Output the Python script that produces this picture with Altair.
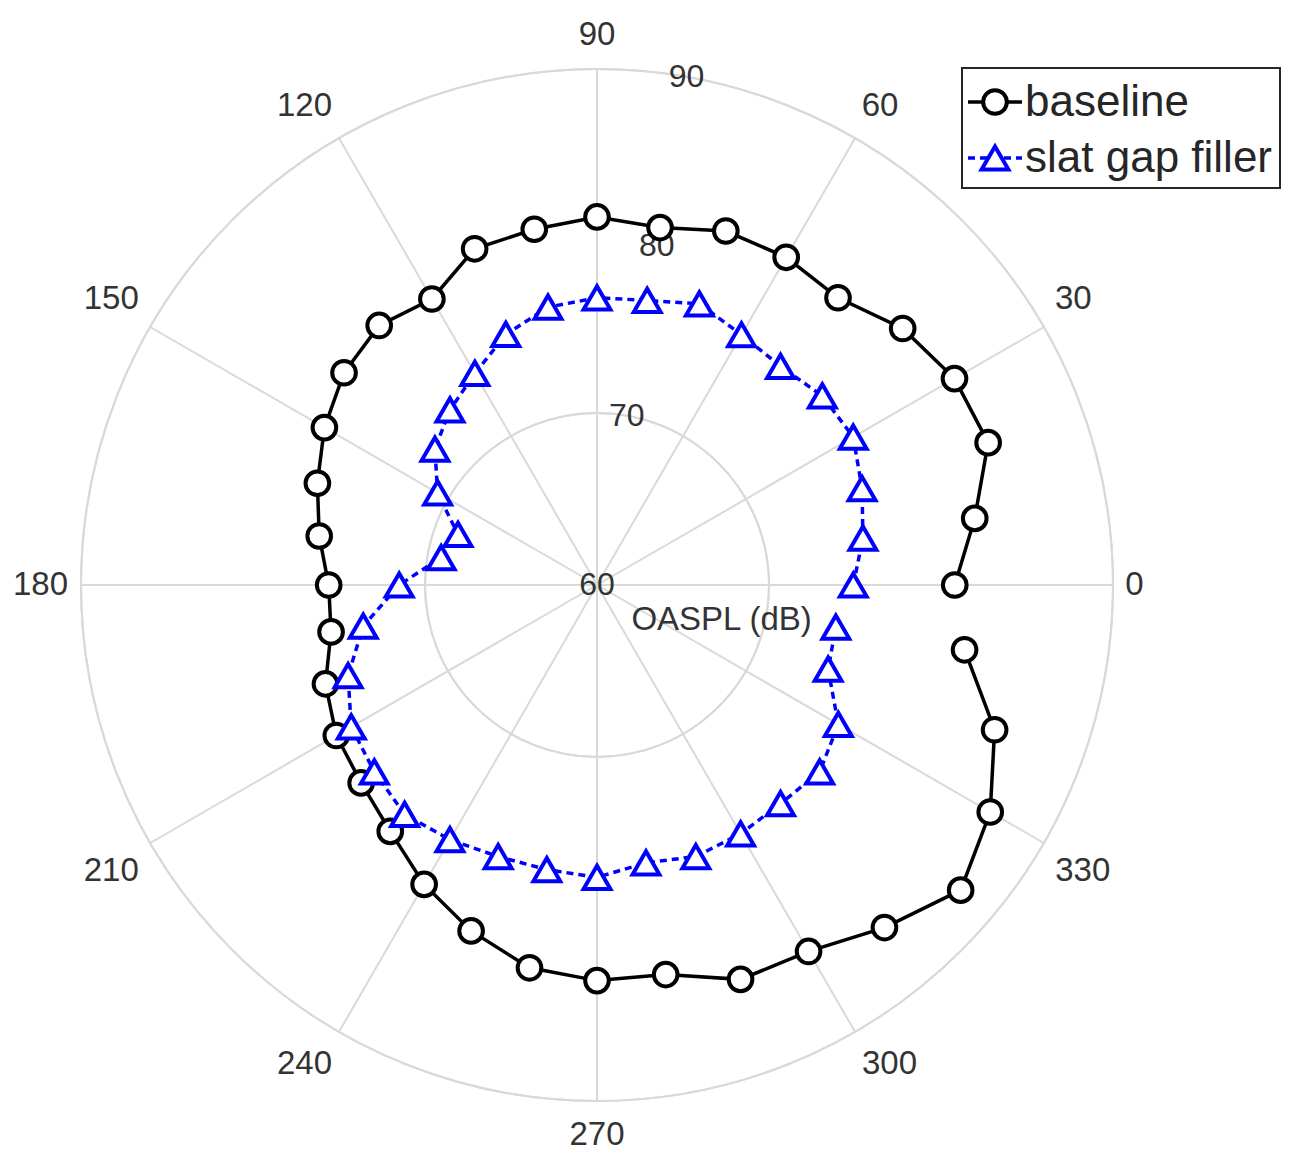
import math
import altair as alt
import pandas as pd

# ---------------- data ----------------
angles = list(range(0, 360, 10))
baseline = [80.8, 82.3, 84.2, 84.0, 83.2, 81.8, 82.0, 81.9, 81.1, 81.4,
            81.0, 80.8, 79.2, 79.7, 79.2, 78.3, 77.3, 76.4, 75.6, 75.7,
            76.8, 77.5, 77.9, 78.7, 80.1, 81.4, 82.6, 83.0, 83.0, 84.4,
            84.6, 86.0, 87.6, 86.4, 84.6, 81.7]
gap_filler = [74.9, 75.7, 76.4, 77.2, 77.1, 76.6, 76.8, 77.4, 76.8, 76.7,
              76.4, 75.5, 74.2, 73.3, 72.3, 70.7, 68.6, 69.2, 71.5, 73.8,
              75.4, 76.5, 76.9, 77.4, 77.1, 76.8, 76.8, 77.0, 76.4, 76.8,
              76.7, 76.6, 76.9, 76.2, 74.3, 74.1]
series_names = ["baseline", "slat gap filler"]
r_ticks = [60, 70, 80, 90]
r_label_angle = 80
theta_ticks = list(range(0, 360, 30))
theta_labels = [str(t) for t in theta_ticks]
r_title = "OASPL (dB)"
R_MIN, R_MAX = 60, 90

# ---------------- style ----------------
GRID = "#d9d9d9"
TXT = "#333333"
FONT = "Liberation Sans"
SIZE = 1032
SPAN = R_MAX - R_MIN
PX = SIZE / 2 / SPAN  # pixels per dB

xs = alt.Scale(domain=[-SPAN, SPAN], nice=False, zero=False)
ys = alt.Scale(domain=[-SPAN, SPAN], nice=False, zero=False)

df = pd.DataFrame({
    "angle": angles * 2,
    "value": baseline + gap_filler,
    "series": [series_names[0]] * len(angles) + [series_names[1]] * len(angles),
})

def polar(chart, rexpr, aexpr):
    return chart.transform_calculate(
        px=f"({rexpr})*cos(({aexpr})*PI/180)",
        py=f"({rexpr})*sin(({aexpr})*PI/180)",
    )

X = alt.X("px:Q", scale=xs, axis=None)
Y = alt.Y("py:Q", scale=ys, axis=None)

# grid rings
rings = alt.Chart(pd.DataFrame({"r": r_ticks[1:]})).transform_calculate(
    rr=f"datum.r - {R_MIN}"
).mark_arc(filled=False, stroke=GRID, strokeWidth=2, theta=0, theta2=2 * math.pi).encode(
    radius=alt.Radius("rr:Q", scale=alt.Scale(type="linear", domain=[0, SPAN], range=[0, SIZE / 2]))
)

# spokes
spokes = alt.Chart(pd.DataFrame({"a": theta_ticks})).transform_calculate(
    x0="0", y0="0",
    x1=f"{SPAN}*cos(datum.a*PI/180)", y1=f"{SPAN}*sin(datum.a*PI/180)",
).mark_rule(color=GRID, strokeWidth=2).encode(
    x=alt.X("x0:Q", scale=xs, axis=None), y=alt.Y("y0:Q", scale=ys, axis=None),
    x2="x1:Q", y2="y1:Q",
)

# radial tick labels
rlab = polar(alt.Chart(pd.DataFrame({"r": r_ticks, "t": [str(v) for v in r_ticks]})),
             f"datum.r - {R_MIN}", str(r_label_angle)).mark_text(
    font=FONT, fontSize=32, color=TXT, align="center", baseline="middle"
).encode(x=X, y=Y, text="t:N")

# angle labels: corner of the text box placed just outside the outer ring
alab = alt.Chart(pd.DataFrame({"a": theta_ticks, "t": theta_labels})).transform_calculate(
    c="cos(datum.a*PI/180)", s="sin(datum.a*PI/180)",
).transform_calculate(
    sx="datum.c > 0.01 ? 1 : (datum.c < -0.01 ? -1 : 0)",
    sy="datum.s > 0.01 ? 1 : (datum.s < -0.01 ? -1 : 0)",
).transform_calculate(
    px=f"(528*datum.c + datum.sx*9.5*length(datum.t))/{PX}",
    py=f"(528*datum.s + datum.sy*22)/{PX}",
).mark_text(
    font=FONT, fontSize=33, color=TXT, align="center", baseline="middle"
).encode(x=X, y=Y, text="t:N")

# radial axis title
rtitle = alt.Chart(pd.DataFrame({"t": [r_title]})).mark_text(
    font=FONT, fontSize=33, color=TXT, align="left", baseline="middle"
).encode(x=alt.X(datum=2.0, scale=xs, axis=None), y=alt.Y(datum=-2.05, scale=ys, axis=None), text="t:N")

base = polar(alt.Chart(df), f"datum.value - {R_MIN}", "datum.angle")

line_b = base.transform_filter(f"datum.series == '{series_names[0]}'").mark_line(
    color="black", strokeWidth=3.5).encode(x=X, y=Y, order="angle:Q")
pts_b = base.transform_filter(f"datum.series == '{series_names[0]}'").mark_point(
    shape="circle", filled=True, fill="white", stroke="black", strokeWidth=4,
    size=560, opacity=1).encode(x=X, y=Y)
line_g = base.transform_filter(f"datum.series == '{series_names[1]}'").mark_line(
    color="#0000ff", strokeWidth=3.5, strokeDash=[7, 5]).encode(x=X, y=Y, order="angle:Q")
pts_g = base.transform_filter(f"datum.series == '{series_names[1]}'").mark_point(
    shape="triangle-up", filled=True, fill="white", stroke="#0000ff", strokeWidth=4,
    size=720, opacity=1).encode(x=X, y=Y)

# legend (manual, MATLAB style)
one = pd.DataFrame({"k": [0]})
leg_box = alt.Chart(one).mark_rect(fill="white", stroke="#262626", strokeWidth=2).encode(
    x=alt.value(881), x2=alt.value(1199), y=alt.value(-1), y2=alt.value(119))
leg_l1 = alt.Chart(one).mark_rule(color="black", strokeWidth=3.5).encode(
    x=alt.value(887), x2=alt.value(941), y=alt.value(33))
leg_p1 = alt.Chart(one).mark_point(shape="circle", filled=True, fill="white", stroke="black",
                                   strokeWidth=4, size=560, opacity=1).encode(
    x=alt.value(914), y=alt.value(33))
leg_l2 = alt.Chart(one).mark_rule(color="#0000ff", strokeWidth=3.5, strokeDash=[7, 5]).encode(
    x=alt.value(887), x2=alt.value(941), y=alt.value(89))
leg_p2 = alt.Chart(one).mark_point(shape="triangle-up", filled=True, fill="white", stroke="#0000ff",
                                   strokeWidth=4, size=720, opacity=1).encode(
    x=alt.value(914), y=alt.value(89))
leg_t = alt.Chart(pd.DataFrame({"t": series_names, "yy": [34, 90]})).mark_text(
    font=FONT, fontSize=44, color="#262626", align="left", baseline="middle"
).encode(x=alt.value(944), y=alt.Y("yy:Q", scale=None, axis=None), text="t:N")

chart = alt.layer(
    rings, spokes, rlab, alab, rtitle,
    line_b, pts_b, line_g, pts_g,
    leg_box, leg_l1, leg_p1, leg_l2, leg_p2, leg_t,
).properties(
    width=SIZE, height=SIZE,
    autosize=alt.AutoSizeParams(type="none"),
    padding={"left": 73, "top": 61, "right": 170, "bottom": 60},
).resolve_scale(y="independent").configure_view(stroke=None)

chart.save("out.html", embed_options={"renderer": "svg", "actions": False})
